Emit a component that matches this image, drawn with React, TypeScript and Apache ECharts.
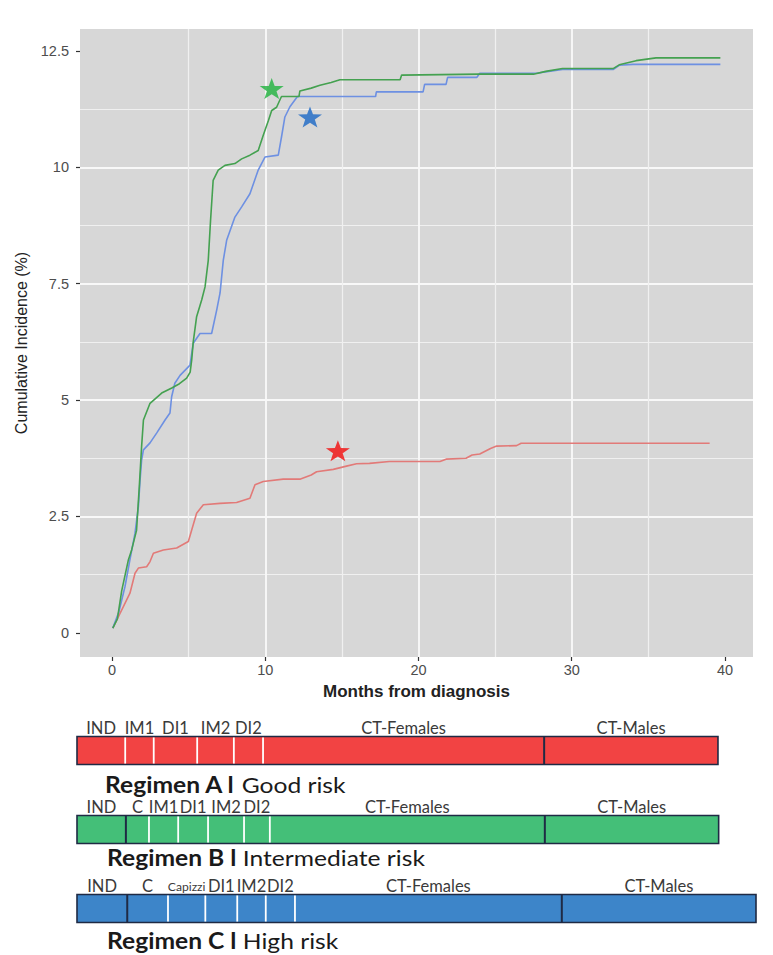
import React, { useEffect, useRef } from 'react';
import * as echarts from 'echarts';

// ---------- Data ----------
const xTicks = [0, 10, 20, 30, 40];
const yTicks = [0, 2.5, 5, 7.5, 10, 12.5];

const redCurve: [number, number][] = [
  [0.05, 0.1], [0.2, 0.2], [0.74, 0.56], [1.17, 0.85], [1.5, 1.28], [1.72, 1.39],
  [2.26, 1.42], [2.48, 1.53], [2.7, 1.71], [3.35, 1.78], [4.22, 1.82], [4.98, 1.96],
  [5.2, 2.21], [5.52, 2.57], [5.96, 2.75], [7.05, 2.78], [8.13, 2.8], [9.0, 2.89],
  [9.33, 3.18], [9.87, 3.25], [11.17, 3.3], [12.26, 3.3], [13.0, 3.39], [13.35, 3.46],
  [14.44, 3.51], [15.3, 3.58], [15.96, 3.63], [16.8, 3.64], [18.1, 3.68], [21.4, 3.68],
  [21.8, 3.73], [23.1, 3.75], [23.5, 3.82], [24.0, 3.84], [24.7, 3.96], [25.1, 4.01],
  [26.4, 4.02], [26.7, 4.07], [39.0, 4.07],
];

const blueCurve: [number, number][] = [
  [0.05, 0.1], [0.45, 0.45], [0.85, 1.0], [1.17, 1.57], [1.5, 2.14], [1.72, 2.71],
  [1.83, 3.28], [1.93, 3.71], [2.05, 3.93], [2.48, 4.08], [2.91, 4.29], [3.46, 4.57],
  [3.78, 4.72], [3.89, 5.07], [4.1, 5.36], [4.44, 5.53], [5.09, 5.75], [5.3, 6.22],
  [5.74, 6.43], [6.5, 6.43], [6.83, 6.93], [7.05, 7.3], [7.26, 8.0], [7.48, 8.43],
  [8.02, 8.93], [8.46, 9.15], [9.0, 9.43], [9.54, 9.94], [9.98, 10.22], [10.85, 10.26],
  [11.06, 10.65], [11.28, 11.08], [11.61, 11.3], [12.1, 11.52], [17.2, 11.52],
  [17.25, 11.62], [20.3, 11.62], [20.4, 11.78], [21.8, 11.78], [21.9, 11.93],
  [23.8, 11.93], [24.0, 12.02], [27.7, 12.02], [28.5, 12.06], [29.4, 12.1], [32.7, 12.1],
  [33.1, 12.19], [34.0, 12.21], [39.7, 12.21],
];

const greenCurve: [number, number][] = [
  [0.05, 0.1], [0.35, 0.3], [0.63, 0.9], [1.07, 1.57], [1.28, 1.78], [1.6, 2.2],
  [1.78, 3.14], [1.93, 4.0], [2.05, 4.57], [2.48, 4.93], [3.24, 5.15], [3.9, 5.26],
  [4.4, 5.35], [4.87, 5.47], [5.1, 5.6], [5.2, 5.86], [5.3, 6.25], [5.52, 6.79],
  [5.85, 7.15], [6.07, 7.43], [6.28, 8.0], [6.43, 8.86], [6.6, 9.72], [6.93, 9.94],
  [7.37, 10.04], [8.02, 10.08], [8.46, 10.18], [9.0, 10.26], [9.54, 10.36], [9.87, 10.69],
  [10.2, 11.0], [10.42, 11.22], [10.74, 11.29], [10.96, 11.45], [11.06, 11.52],
  [12.2, 11.52], [12.26, 11.64], [13.0, 11.7], [13.57, 11.76], [14.3, 11.82],
  [14.87, 11.88], [18.8, 11.88], [18.9, 11.98], [24.0, 12.0], [27.5, 12.0],
  [28.3, 12.06], [29.4, 12.12], [32.7, 12.12], [33.1, 12.2], [34.2, 12.29],
  [35.5, 12.35], [39.7, 12.35],
];

const redStar: [number, number] = [14.74, 3.91];
const greenStar: [number, number] = [10.42, 11.69];
const blueStar: [number, number] = [12.92, 11.08];

const regimenNames = ['Regimen A', 'Regimen B', 'Regimen C'];
const regimenRisks = ['Good risk', 'Intermediate risk', 'High risk'];
const regimenLabels = [
  ['IND', 'IM1', 'DI1', 'IM2', 'DI2', 'CT-Females', 'CT-Males'],
  ['IND', 'C', 'IM1', 'DI1', 'IM2', 'DI2', 'CT-Females', 'CT-Males'],
  ['IND', 'C', 'Capizzi', 'DI1', 'IM2', 'DI2', 'CT-Females', 'CT-Males'],
];
// phase boundaries on a 0-100 timeline scale
const regimenBounds = [
  [0, 7.1, 11.3, 17.7, 23.1, 27.4, 68.8, 94.4],
  [0, 7.2, 10.6, 14.9, 19.3, 24.6, 28.4, 68.9, 94.5],
  [0, 7.4, 13.4, 18.9, 23.6, 27.8, 32.1, 71.4, 100],
];
// divider type between consecutive phases: 'phase' (white) or 'block' (dark)
const regimenDividers = [
  ['phase', 'phase', 'phase', 'phase', 'phase', 'block'],
  ['block', 'phase', 'phase', 'phase', 'phase', 'phase', 'block'],
  ['block', 'phase', 'phase', 'phase', 'phase', 'phase', 'block'],
];

// ---------- Styles ----------
const rowColors = ['#f24343', '#44bf78', '#3d85c9'];
const borderColor = '#1f2a44';
const starPath =
  'path://M50,0L61.76,33.82L97.55,34.55L69.02,56.18L79.39,90.45L50,70L20.61,90.45L30.98,56.18L2.45,34.55L38.24,33.82Z';
const sansFont = "'Liberation Sans', Arial, sans-serif";
const labelFont = "Lato, 'Open Sans', sans-serif";

export default function App() {
  const ref = useRef<HTMLDivElement>(null);

  useEffect(() => {
    if (!ref.current) return;
    const chart = echarts.init(ref.current, undefined, { renderer: 'svg' });

    const lineSeries = (name: string, data: [number, number][], color: string) => ({
      name,
      type: 'line',
      xAxisIndex: 0,
      yAxisIndex: 0,
      data,
      symbol: 'none',
      smooth: false,
      lineStyle: { color, width: 1.6 },
      z: 3,
    });

    const starSeries = (name: string, point: [number, number], color: string) => ({
      name,
      type: 'scatter',
      xAxisIndex: 0,
      yAxisIndex: 0,
      data: [point],
      symbol: starPath,
      symbolSize: [24, 21],
      itemStyle: { color },
      z: 5,
    });

    const option: any = {
      animation: false,
      backgroundColor: '#ffffff',
      textStyle: { fontFamily: sansFont },
      grid: [
        { left: 80, top: 29, width: 673, height: 628, show: true, backgroundColor: '#d7d7d7', borderWidth: 0 },
        { left: 77, top: 711, width: 679, height: 237, show: false },
      ],
      xAxis: [
        {
          type: 'value',
          gridIndex: 0,
          min: -2.09,
          max: 41.83,
          minInterval: 10,
          maxInterval: 10,
          axisLine: { show: false, onZero: false },
          axisTick: { show: true, length: 4, lineStyle: { color: '#333333', width: 1.2 }, customValues: xTicks },
          axisLabel: { customValues: xTicks, color: '#4d4d4d', fontSize: 14.5, margin: 5, fontFamily: sansFont },
          splitLine: { show: true, showMinLine: false, showMaxLine: false, lineStyle: { color: '#f8f8f8', width: 1.9 } },
          minorTick: { show: false, splitNumber: 2 },
          minorSplitLine: { show: true, lineStyle: { color: '#f0f0f0', width: 1.2 } },
          name: 'Months from diagnosis',
          nameLocation: 'middle',
          nameGap: 26,
          nameTextStyle: { fontSize: 17, fontWeight: 'bold', color: '#222222', fontFamily: sansFont },
        },
        { type: 'value', gridIndex: 1, min: 0, max: 100, show: false },
      ],
      yAxis: [
        {
          type: 'value',
          gridIndex: 0,
          min: -0.52,
          max: 12.97,
          minInterval: 2.5,
          maxInterval: 2.5,
          axisLine: { show: false, onZero: false },
          axisTick: { show: true, length: 4, lineStyle: { color: '#333333', width: 1.2 }, customValues: yTicks },
          axisLabel: { customValues: yTicks, color: '#4d4d4d', fontSize: 14.5, margin: 11, fontFamily: sansFont },
          splitLine: { show: true, showMinLine: false, showMaxLine: false, lineStyle: { color: '#f8f8f8', width: 1.9 } },
          minorTick: { show: false, splitNumber: 2 },
          minorSplitLine: { show: true, lineStyle: { color: '#f0f0f0', width: 1.2 } },
          name: 'Cumulative Incidence (%)',
          nameLocation: 'middle',
          nameRotate: 90,
          nameGap: 50,
          nameTextStyle: { fontSize: 16, color: '#222222', fontFamily: sansFont },
        },
        { type: 'category', gridIndex: 1, data: regimenNames, inverse: true, show: false },
      ],
      series: [
        lineSeries('Regimen A', redCurve, '#e27a78'),
        lineSeries('Regimen C', blueCurve, '#6d90e2'),
        lineSeries('Regimen B', greenCurve, '#44a150'),
        starSeries('Regimen B star', greenStar, '#1fb33d'),
        starSeries('Regimen C star', blueStar, '#1a68c6'),
        starSeries('Regimen A star', redStar, '#f20d0d'),
        {
          type: 'custom',
          xAxisIndex: 1,
          yAxisIndex: 1,
          data: regimenNames.map((_, i) => [0, i]),
          renderItem: (params: any, api: any) => {
            const row = params.dataIndex;
            const bounds = regimenBounds[row];
            const labels = regimenLabels[row];
            const dividers = regimenDividers[row];
            const start = api.coord([bounds[0], row]);
            const end = api.coord([bounds[bounds.length - 1], row]);
            const band = api.size([0, 1])[1];
            const h = band * 0.355;
            const top = start[1] - h / 2;
            const children: any[] = [];
            children.push({
              type: 'rect',
              shape: { x: start[0], y: top, width: end[0] - start[0], height: h },
              style: { fill: rowColors[row], stroke: borderColor, lineWidth: 1.6 },
            });
            for (let i = 1; i < bounds.length - 1; i++) {
              const xi = api.coord([bounds[i], row])[0];
              const isBlock = dividers[i - 1] === 'block';
              children.push({
                type: 'line',
                shape: { x1: xi, y1: top + (isBlock ? 0 : 1), x2: xi, y2: top + h - (isBlock ? 0 : 1) },
                style: { stroke: isBlock ? borderColor : '#ffffff', lineWidth: isBlock ? 2 : 1.8 },
              });
            }
            for (let i = 0; i < labels.length; i++) {
              const xa = api.coord([bounds[i], row])[0];
              const xb = api.coord([bounds[i + 1], row])[0];
              const w = xb - xa;
              const base = 16.5;
              const fs = Math.min(base, w / (labels[i].length * 0.44));
              children.push({
                type: 'text',
                x: (xa + xb) / 2,
                y: top - 8,
                style: {
                  text: labels[i],
                  fontSize: fs,
                  fontFamily: labelFont,
                  fill: '#3a3a3a',
                  align: 'center',
                  verticalAlign: 'middle',
                },
              });
            }
            return { type: 'group', children };
          },
          z: 2,
        },
      ],
      graphic: regimenNames.map((name, i) => ({
        type: 'text',
        x: [105, 107, 107][i],
        y: [785, 858, 941][i],
        scaleX: 1.12,
        style: {
          text: `{b|${name} l} ${regimenRisks[i]}`,
          fontSize: 22,
          fontFamily: labelFont,
          fill: '#1a1a1a',
          verticalAlign: 'middle',
          rich: { b: { fontWeight: 'bold', fontSize: 22, fontFamily: labelFont, fill: '#1a1a1a' } },
        },
      })),
    };

    chart.setOption(option);
    return () => chart.dispose();
  }, []);

  return (
    <div
      ref={ref}
      style={{ position: 'fixed', left: 0, top: 0, width: 773, height: 955 }}
    />
  );
}
